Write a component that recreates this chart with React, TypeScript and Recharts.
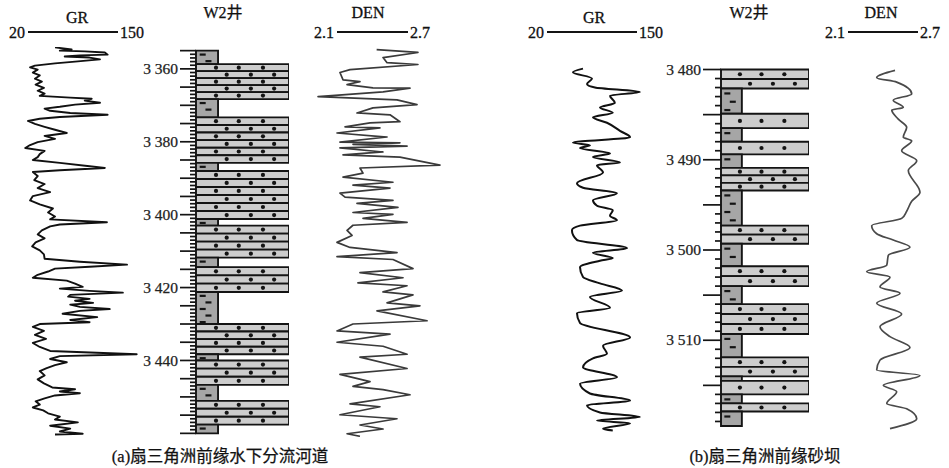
import { ComposedChart, Line, LineChart, ReferenceArea, ReferenceDot, XAxis, YAxis } from "recharts";

const SERIF = '"Liberation Serif", "Times New Roman", "Noto Sans CJK SC", serif';
const INK = "#141414";
const SAND = "#cdcdcd";
const MUD = "#a6a6a6";

// depth windows of the two panels (m)
const depthA: [number, number] = [3354, 3461];
const depthB: [number, number] = [3479.5, 3520.5];

// log scales shown in the headers
const grScale: [number, number] = [20, 150];
const denScale: [number, number] = [2.1, 2.7];

// depth labels on the lithology columns
const labelsA = [3360, 3380, 3400, 3420, 3440];
const labelsB = [3480, 3490, 3500, 3510];

// (a) GR: [depth, API]
const grA: [number, number][] = [
  [3354.1, 59], [3354.7, 83], [3355.0, 66], [3355.2, 102], [3355.5, 131], [3356.1, 135], [3356.3, 95],
  [3356.6, 73], [3356.9, 109], [3357.4, 124], [3358.0, 88], [3358.5, 59], [3359.1, 30], [3359.6, 23],
  [3360.2, 34], [3361.0, 27], [3361.8, 37], [3362.7, 30], [3363.5, 40], [3364.3, 31], [3365.2, 43],
  [3366.0, 34], [3366.8, 44], [3367.4, 37], [3367.9, 81], [3368.2, 112], [3368.7, 102], [3369.3, 124],
  [3369.8, 88], [3370.4, 66], [3370.9, 44], [3371.5, 52], [3372.1, 81], [3372.6, 135], [3373.2, 66],
  [3373.7, 37], [3374.3, 20], [3375.1, 30], [3375.9, 44], [3376.7, 59], [3377.6, 76], [3378.4, 44],
  [3379.2, 59], [3380.1, 34], [3380.9, 23], [3381.7, 16], [3382.5, 44], [3383.4, 37], [3384.2, 34],
  [3385.0, 27], [3385.8, 66], [3386.7, 109], [3387.2, 131], [3387.8, 66], [3388.3, 27], [3389.4, 34],
  [3390.5, 29], [3391.6, 44], [3392.7, 34], [3393.8, 52], [3394.9, 27], [3396.1, 23], [3397.2, 37],
  [3398.3, 56], [3399.4, 49], [3400.5, 59], [3401.3, 52], [3402.1, 134], [3402.7, 66], [3403.2, 52],
  [3404.3, 40], [3405.4, 34], [3406.5, 44], [3407.6, 31], [3408.7, 26], [3409.8, 37], [3410.9, 43],
  [3412.1, 44], [3412.9, 95], [3413.7, 163], [3414.3, 109], [3414.8, 59], [3415.6, 49], [3416.5, 34],
  [3417.3, 27], [3418.1, 76], [3418.9, 88], [3419.8, 99], [3420.3, 66], [3420.9, 109], [3421.4, 157],
  [3422.0, 81], [3422.5, 78], [3423.1, 109], [3423.6, 88], [3424.2, 114], [3424.7, 81], [3425.3, 95],
  [3425.9, 138], [3426.4, 95], [3427.2, 70], [3428.1, 120], [3428.9, 81], [3429.5, 109], [3430.0, 37],
  [3430.8, 27], [3431.9, 43], [3433.0, 30], [3434.1, 46], [3435.2, 27], [3436.3, 37], [3437.4, 52],
  [3438.3, 177], [3438.8, 66], [3439.6, 52], [3440.5, 76], [3441.3, 59], [3442.1, 47], [3442.9, 37],
  [3444.1, 44], [3445.2, 34], [3446.3, 43], [3447.4, 55], [3447.9, 88], [3448.5, 66], [3449.0, 95],
  [3449.6, 59], [3450.4, 44], [3451.2, 31], [3452.1, 37], [3452.9, 27], [3453.7, 42], [3454.5, 49],
  [3455.4, 66], [3456.2, 59], [3457.0, 92], [3457.9, 52], [3458.7, 81], [3459.5, 66], [3460.1, 99],
  [3460.3, 59],
];

// (a) DEN: [depth, g/cm3]
const denA: [number, number][] = [
  [3354.7, 2.435], [3355.5, 2.784], [3356.9, 2.489], [3358.3, 2.523], [3358.8, 2.784], [3360.2, 2.21],
  [3361.0, 2.125], [3363.0, 2.151], [3363.5, 2.294], [3364.3, 2.185], [3365.2, 2.404], [3365.3, 2.717],
  [3366.3, 2.489], [3367.6, 1.94], [3368.5, 2.607], [3369.8, 2.776], [3370.7, 2.404], [3372.1, 2.269],
  [3372.6, 2.548], [3374.5, 2.632], [3374.8, 2.379], [3375.9, 2.168], [3376.2, 2.463], [3377.6, 2.1],
  [3378.7, 2.523], [3380.1, 2.125], [3380.3, 2.632], [3380.7, 2.235], [3381.2, 2.692], [3381.7, 2.125],
  [3382.8, 2.489], [3383.6, 2.151], [3384.2, 2.632], [3386.4, 2.97], [3387.2, 2.294], [3388.6, 2.32],
  [3389.7, 2.151], [3391.1, 2.573], [3391.9, 2.235], [3392.7, 2.548], [3394.1, 2.125], [3395.2, 2.168],
  [3396.1, 2.573], [3396.9, 2.269], [3398.0, 2.615], [3399.4, 2.235], [3399.9, 2.573], [3401.0, 2.32],
  [3402.1, 2.692], [3402.9, 2.235], [3404.3, 2.185], [3405.7, 2.227], [3407.6, 2.1], [3409.0, 2.21],
  [3410.4, 2.607], [3411.5, 2.1], [3412.3, 2.573], [3414.8, 2.742], [3415.9, 2.294], [3417.3, 2.658],
  [3418.7, 2.277], [3419.5, 2.692], [3421.2, 2.489], [3422.0, 2.742], [3424.2, 2.523], [3425.0, 2.801],
  [3426.4, 2.438], [3429.1, 2.861], [3430.0, 2.235], [3431.9, 2.1], [3432.8, 2.548], [3435.0, 2.1],
  [3436.1, 2.489], [3438.3, 2.692], [3439.1, 2.294], [3442.2, 2.692], [3443.8, 2.125], [3445.8, 2.379],
  [3447.1, 2.235], [3448.0, 2.489], [3449.4, 2.717], [3451.9, 2.21], [3452.7, 2.463], [3454.9, 2.125],
  [3456.0, 2.607], [3457.7, 2.294], [3458.8, 2.489], [3460.1, 2.185], [3460.8, 2.294],
];

// (b) GR
const grB: [number, number][] = [
  [3479.9, 72], [3480.3, 57.5], [3481.0, 85], [3481.6, 77.8], [3482.0, 89.3], [3482.5, 154], [3482.9, 111],
  [3483.7, 118], [3484.2, 96.5], [3484.8, 115], [3485.3, 86.4], [3485.9, 106.6], [3486.8, 125.4],
  [3487.5, 140], [3488.1, 57.5], [3488.4, 82], [3488.7, 67.7], [3489.3, 111], [3489.7, 86.4],
  [3490.3, 125.4], [3490.6, 92.2], [3491.4, 100.9], [3492.6, 63.3], [3493.1, 72], [3493.7, 121],
  [3494.5, 86.4], [3495.1, 92.2], [3495.6, 115], [3496.2, 111], [3496.7, 121], [3497.3, 67.7],
  [3497.8, 56], [3498.9, 63.3], [3499.8, 135.5], [3500.3, 86.4], [3500.9, 115], [3501.2, 96.5],
  [3501.9, 67.7], [3503.0, 72], [3503.7, 96.5], [3504.5, 128.3], [3505.2, 82], [3506.4, 111],
  [3507.0, 63.3], [3508.1, 67.7], [3509.7, 140], [3510.6, 100.9], [3511.5, 106.6], [3512.0, 86.4],
  [3513.0, 72], [3514.1, 121], [3514.8, 67.7], [3515.9, 82], [3516.7, 140], [3517.2, 77.8], [3518.0, 96.5],
  [3518.5, 154], [3518.9, 92.2], [3519.2, 140], [3519.8, 100.9], [3520.0, 115],
];

// (b) DEN
const denB: [number, number][] = [
  [3480.1, 2.503], [3480.9, 2.346], [3481.4, 2.517], [3482.7, 2.646], [3483.4, 2.488], [3484.2, 2.574],
  [3484.5, 2.475], [3485.5, 2.531], [3486.4, 2.603], [3487.5, 2.574], [3487.9, 2.646], [3489.0, 2.56],
  [3490.1, 2.689], [3491.2, 2.617], [3493.6, 2.717], [3494.6, 2.646], [3495.7, 2.603], [3496.5, 2.56],
  [3497.3, 2.303], [3498.2, 2.346], [3498.9, 2.488], [3499.7, 2.631], [3500.6, 2.445], [3501.7, 2.432],
  [3502.4, 2.26], [3503.0, 2.46], [3504.1, 2.374], [3504.8, 2.546], [3505.9, 2.346], [3507.1, 2.56],
  [3508.5, 2.374], [3509.6, 2.46], [3510.8, 2.631], [3512.2, 2.374], [3513.3, 2.346], [3513.9, 2.717],
  [3515.0, 2.403], [3515.7, 2.517], [3517.0, 2.432], [3517.6, 2.603], [3518.7, 2.689], [3519.8, 2.46],
];

// lithology: [top, bottom, s=sandstone / m=mudstone, sand sub-beds]
type Layer = [number, number, "s" | "m", number];
const lithA: Layer[] = [
  [3355, 3358.7, "m", 0], [3358.7, 3368.3, "s", 5], [3368.3, 3373.3, "m", 0], [3373.3, 3385.8, "s", 6],
  [3385.8, 3388, "m", 0], [3388, 3401.2, "s", 6], [3401.2, 3403, "m", 0], [3403, 3411.8, "s", 4],
  [3411.8, 3414.4, "m", 0], [3414.4, 3421.2, "s", 3], [3421.2, 3430, "m", 0], [3430, 3438.3, "s", 4],
  [3438.3, 3440, "m", 0], [3440, 3446.7, "s", 3], [3446.7, 3451.1, "m", 0], [3451.1, 3457.6, "s", 3],
  [3457.6, 3460, "m", 0],
];
const lithB: Layer[] = [
  [3480, 3482.1, "s", 2], [3482.1, 3484.9, "m", 0], [3484.9, 3486.5, "s", 1], [3486.5, 3488, "m", 0],
  [3488, 3489.4, "s", 1], [3489.4, 3490.9, "m", 0], [3490.9, 3493.4, "s", 3], [3493.4, 3497.3, "m", 0],
  [3497.3, 3499.3, "s", 2], [3499.3, 3501.8, "m", 0], [3501.8, 3504, "s", 2], [3504, 3506, "m", 0],
  [3506, 3509.3, "s", 3], [3509.3, 3511.9, "m", 0], [3511.9, 3514, "s", 2], [3514, 3514.5, "m", 0],
  [3514.5, 3516, "s", 1], [3516, 3517, "m", 0], [3517, 3517.9, "s", 1], [3517.9, 3519.5, "m", 0],
];

const DOTS_1 = [0.215, 0.46, 0.72];
const DOTS_2 = [0.33, 0.59, 0.84];
const MUD_W = 0.237;

type CurveProps = {
  data: [number, number][];
  left: number; width: number; top: number; height: number;
  depth: [number, number]; scale: [number, number]; x0: number; x1: number;
  color: string; sw: number; smooth?: boolean;
};

function Curve({ data, left, width, top, height, depth, scale, x0, x1, color, sw, smooth }: CurveProps) {
  const k = (x1 - x0) / (scale[1] - scale[0]);
  const dom = [scale[0] - (x0 - left) / k, scale[1] + (left + width - x1) / k];
  const rows = data.map(([d, v]) => ({ depth: d, v }));
  return (
    <div style={{ position: "absolute", left, top }}>
      <LineChart width={width} height={height} data={rows} layout="vertical" margin={{ top: 0, right: 0, bottom: 0, left: 0 }}>
        <XAxis type="number" domain={dom} hide allowDataOverflow />
        <YAxis type="number" dataKey="depth" domain={depth} hide allowDataOverflow />
        <Line dataKey="v" type={smooth ? "monotone" : "linear"} stroke={color} strokeWidth={sw} dot={false} isAnimationActive={false} strokeLinejoin="round" />
      </LineChart>
    </div>
  );
}

type ColumnProps = {
  layers: Layer[]; left: number; top: number; height: number; depth: [number, number];
  axisW: number; colW: number; ticks: number[]; labels: number[]; longLen: number; dashStep: number;
};

const PAD = 12;

function Column({ layers, left, top, height, depth, axisW, colW, ticks, labels, longLen, dashStep }: ColumnProps) {
  const areas: any[] = [];
  const marks: any[] = [];
  layers.forEach(([t, b, kind, n], i) => {
    if (kind === "m") {
      areas.push(<ReferenceArea key={`m${i}`} x1={0} x2={MUD_W} y1={t} y2={b} fill={MUD} fillOpacity={1} stroke={INK} strokeWidth={1.9} ifOverflow="visible" />);
      let j = 0;
      for (let d = t + dashStep * 0.6; d < b - dashStep * 0.25; d += dashStep, j++) {
        marks.push(
          <ReferenceDot key={`d${i}-${j}`} x={j % 2 ? 0.134 : 0.072} y={d} r={1} ifOverflow="visible"
            shape={(p: any) => <line x1={p.cx - 3} x2={p.cx + 3} y1={p.cy} y2={p.cy} stroke={INK} strokeWidth={2.2} />} />
        );
      }
    } else {
      const h = (b - t) / n;
      for (let r = 0; r < n; r++) {
        const y1 = t + r * h;
        const y2 = y1 + h;
        areas.push(<ReferenceArea key={`s${i}-${r}`} x1={0} x2={1} y1={y1} y2={y2} fill={SAND} fillOpacity={1} stroke={INK} strokeWidth={1.9} ifOverflow="visible" />);
        (r % 2 ? DOTS_2 : DOTS_1).forEach((x, q) =>
          marks.push(<ReferenceDot key={`p${i}-${r}-${q}`} x={x} y={(y1 + y2) / 2} r={2.1} fill={INK} stroke="none" ifOverflow="visible" />)
        );
      }
    }
  });
  const tick = (p: any) => {
    const v = p.payload.value;
    const len = v % 5 === 0 ? longLen : 6;
    const lab = labels.includes(v);
    return (
      <g>
        <line x1={axisW - len} x2={axisW} y1={p.y} y2={p.y} stroke={INK} strokeWidth={1.7} />
        {lab && (
          <text x={axisW - len - 2} y={p.y} dy={5.2} textAnchor="end" fontFamily={SERIF} fontSize={15.5} fill="#222" stroke="#222" strokeWidth={0.25}>
            {`${Math.floor(v / 1000)} ${v % 1000}`}
          </text>
        )}
      </g>
    );
  };
  const rows = [{ depth: depth[0], x: 0 }, { depth: depth[1], x: 1 }];
  return (
    <div style={{ position: "absolute", left, top: top - PAD }}>
      <ComposedChart width={axisW + colW} height={height + 2 * PAD} layout="vertical" data={rows} margin={{ top: PAD, right: 0, bottom: PAD, left: 0 }}>
        <XAxis type="number" dataKey="x" domain={[0, 1]} hide allowDataOverflow />
        <YAxis type="number" dataKey="depth" domain={depth} ticks={ticks} interval={0} width={axisW} tick={tick} tickLine={false} axisLine={false} allowDataOverflow />
        <Line dataKey="x" stroke="none" dot={false} isAnimationActive={false} />
        {areas}
        {marks}
      </ComposedChart>
    </div>
  );
}

const range = (a: number, b: number) => Array.from({ length: b - a + 1 }, (_, i) => a + i);

function Header({ name, cx, x0, x1, lo, hi, nameY }: { name: string; cx: number; x0: number; x1: number; lo: string; hi: string; nameY: number }) {
  return (
    <g fontFamily={SERIF} fontSize={16} fill="#111" stroke="#111" strokeWidth={0.3}>
      <text x={cx} y={nameY} textAnchor="middle">{name}</text>
      <text x={x0 - 3} y={37.5} textAnchor="end">{lo}</text>
      <line x1={x0} x2={x1} y1={32} y2={32} stroke={INK} strokeWidth={2.2} />
      <text x={x1 + 2} y={37.5}>{hi}</text>
    </g>
  );
}

export default function App() {
  const A = { top: 47.4, height: 390 };
  const B = { top: 64.5, height: 370 };
  return (
    <div style={{ position: "absolute", left: 0, top: 0, width: 949, height: 468, background: "#fff", overflow: "hidden" }}>
      <svg width={949} height={468} style={{ position: "absolute", left: 0, top: 0 }}>
        <Header name="GR" cx={77} x0={28} x1={118} lo="20" hi="150" nameY={23} />
        <Header name="DEN" cx={368} x0={337} x1={408} lo="2.1" hi="2.7" nameY={18} />
        <Header name="GR" cx={594} x0={547} x1={637} lo="20" hi="150" nameY={23} />
        <Header name="DEN" cx={881} x0={848} x1={918} lo="2.1" hi="2.7" nameY={18} />
        <g fontFamily={SERIF} fill="#111" stroke="#111" strokeWidth={0.25}>
          <text x={223} y={18} textAnchor="middle" fontSize={16}>W2井</text>
          <text x={749} y={18} textAnchor="middle" fontSize={16}>W2井</text>
          <text x={220} y={462} textAnchor="middle" fontSize={16.5}>(a)扇三角洲前缘水下分流河道</text>
          <text x={765} y={462} textAnchor="middle" fontSize={16.5}>(b)扇三角洲前缘砂坝</text>
        </g>
      </svg>

      <Curve data={grA} left={0} width={160} top={A.top} height={A.height} depth={depthA} scale={grScale} x0={28} x1={118} color="#111" sw={1.9} />
      <Column layers={lithA} left={130} top={A.top} height={A.height} depth={depthA} axisW={66} colW={93}
        ticks={range(3355, 3460)} labels={labelsA} longLen={16} dashStep={1.8} />
      <Curve data={denA} left={300} width={150} top={A.top} height={A.height} depth={depthA} scale={denScale} x0={337} x1={408} color="#3a3a3a" sw={1.7} />

      <Curve data={grB} left={520} width={150} top={B.top} height={B.height} depth={depthB} scale={grScale} x0={547} x1={637} color="#111" sw={2} smooth />
      <Column layers={lithB} left={640} top={B.top} height={B.height} depth={depthB} axisW={81} colW={88}
        ticks={range(3480, 3519)} labels={labelsB} longLen={18} dashStep={0.92} />
      <Curve data={denB} left={820} width={129} top={B.top} height={B.height} depth={depthB} scale={denScale} x0={848} x1={918} color="#4a4a4a" sw={1.7} smooth />
    </div>
  );
}
